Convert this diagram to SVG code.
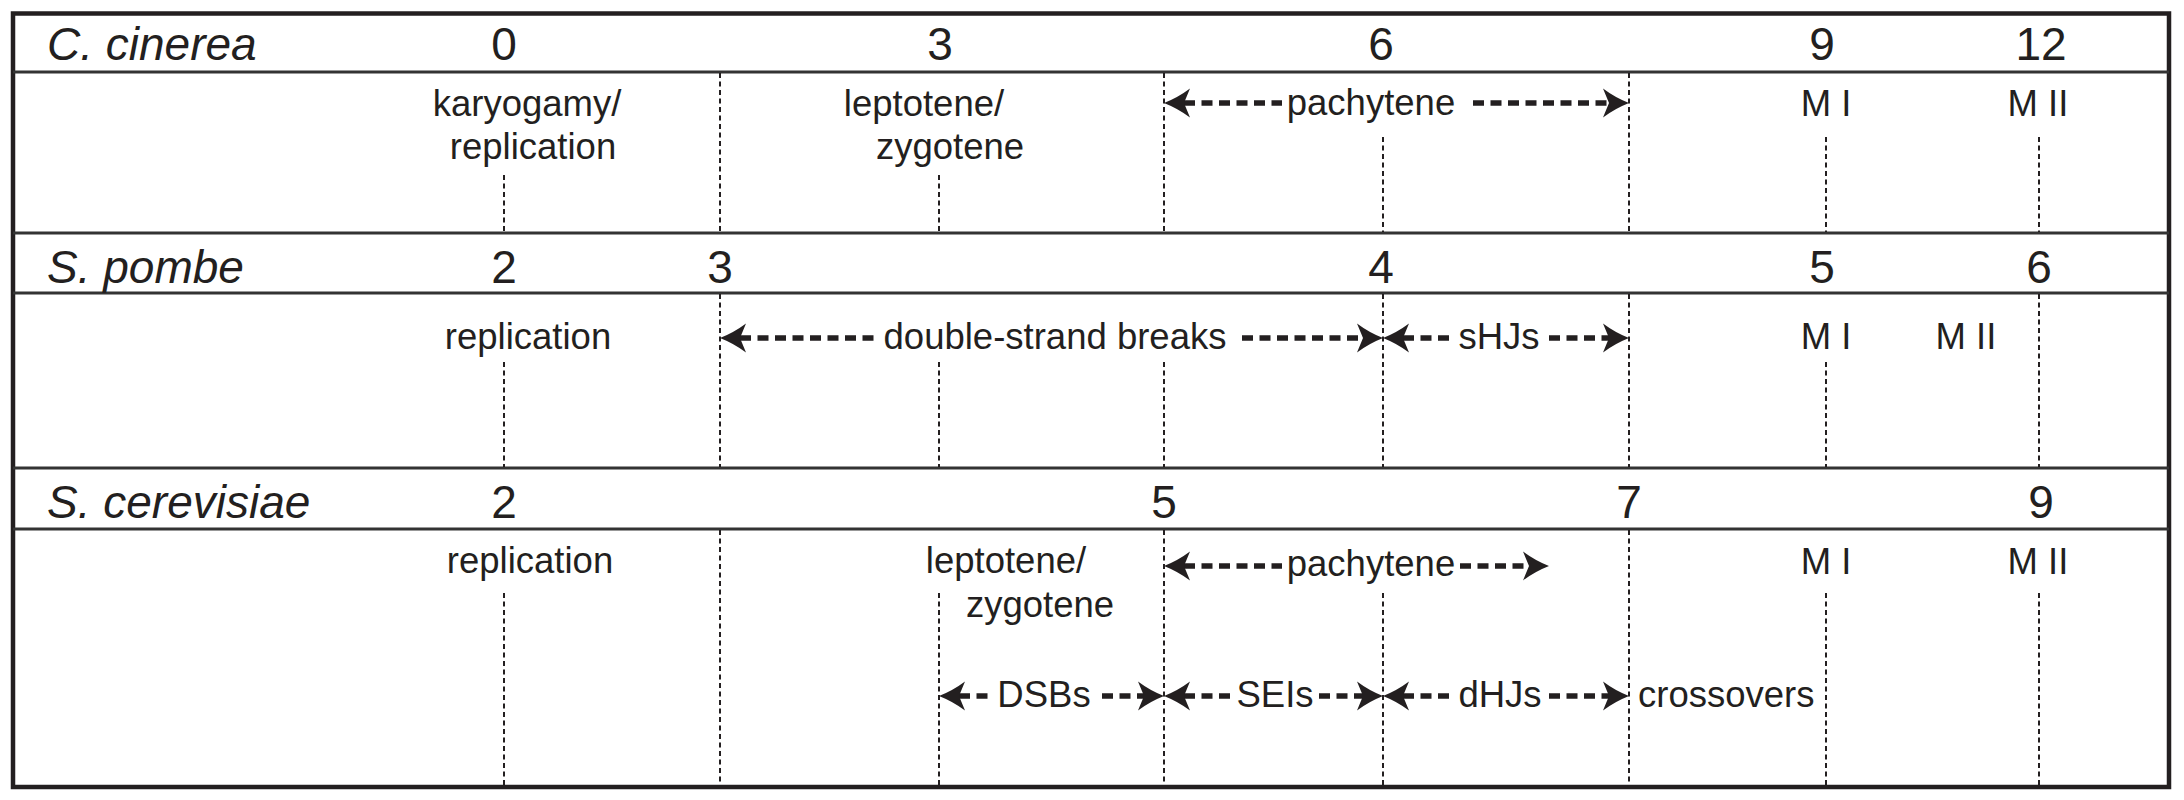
<svg xmlns="http://www.w3.org/2000/svg" xmlns:xlink="http://www.w3.org/1999/xlink" width="2184" height="800" viewBox="0 0 2184 800">
<style>
.t{font-family:"Liberation Sans",Arial,sans-serif;font-size:36.5px;fill:#231f20}
.m{text-anchor:middle}
.h{font-family:"Liberation Sans",Arial,sans-serif;font-size:46px;fill:#231f20}
.sp{font-style:italic}
.sep{stroke:#333;stroke-width:3;fill:none}
.vd{stroke:#231f20;stroke-width:2;stroke-dasharray:5 3.5;fill:none}
.sh{stroke:#231f20;stroke-width:5.5;stroke-dasharray:11 6.5;fill:none}
.ah{fill:#231f20}
</style>
<defs>
<path id="al" class="ah" d="M0,0 Q14,-5.5 26,-14.5 L20,0 L26,14.5 Q14,5.5 0,0 Z"/>
<path id="ar" class="ah" d="M0,0 Q-14,-5.5 -26,-14.5 L-20,0 L-26,14.5 Q-14,5.5 0,0 Z"/>
</defs>
<rect x="0" y="0" width="2184" height="800" fill="#fff"/>
<g id="frame">
<rect x="13" y="13.5" width="2156" height="773.5" fill="none" stroke="#231f20" stroke-width="4.5"/>
<line class="sep" x1="13" y1="72" x2="2169" y2="72"/>
<line class="sep" x1="13" y1="233" x2="2169" y2="233"/>
<line class="sep" x1="13" y1="293" x2="2169" y2="293"/>
<line class="sep" x1="13" y1="468" x2="2169" y2="468"/>
<line class="sep" x1="13" y1="529" x2="2169" y2="529"/>
</g>
<g id="connectors">
<!-- row 1 verticals -->
<line class="vd" x1="504" y1="175" x2="504" y2="232"/>
<line class="vd" x1="720" y1="73" x2="720" y2="232"/>
<line class="vd" x1="939" y1="175" x2="939" y2="232"/>
<line class="vd" x1="1164" y1="73" x2="1164" y2="232"/>
<line class="vd" x1="1383" y1="137" x2="1383" y2="232"/>
<line class="vd" x1="1629" y1="73" x2="1629" y2="232"/>
<line class="vd" x1="1826" y1="137" x2="1826" y2="232"/>
<line class="vd" x1="2039" y1="137" x2="2039" y2="232"/>
<!-- row 2 verticals -->
<line class="vd" x1="504" y1="362" x2="504" y2="467"/>
<line class="vd" x1="720" y1="294" x2="720" y2="467"/>
<line class="vd" x1="939" y1="362" x2="939" y2="467"/>
<line class="vd" x1="1164" y1="362" x2="1164" y2="467"/>
<line class="vd" x1="1383" y1="294" x2="1383" y2="467"/>
<line class="vd" x1="1629" y1="294" x2="1629" y2="467"/>
<line class="vd" x1="1826" y1="362" x2="1826" y2="467"/>
<line class="vd" x1="2039" y1="294" x2="2039" y2="467"/>
<!-- row 3 verticals -->
<line class="vd" x1="504" y1="593" x2="504" y2="785"/>
<line class="vd" x1="720" y1="530" x2="720" y2="785"/>
<line class="vd" x1="939" y1="593" x2="939" y2="785"/>
<line class="vd" x1="1164" y1="530" x2="1164" y2="785"/>
<line class="vd" x1="1383" y1="593" x2="1383" y2="785"/>
<line class="vd" x1="1629" y1="530" x2="1629" y2="785"/>
<line class="vd" x1="1826" y1="593" x2="1826" y2="785"/>
<line class="vd" x1="2039" y1="593" x2="2039" y2="785"/>
<!-- row 1 pachytene -->
<line class="sh" x1="1184" y1="103" x2="1282" y2="103"/>
<line class="sh" x1="1473" y1="103" x2="1609" y2="103"/>
<use xlink:href="#al" x="1164" y="103"/>
<use xlink:href="#ar" x="1629" y="103"/>
<!-- row 2 -->
<line class="sh" x1="740" y1="338" x2="876" y2="338"/>
<line class="sh" x1="1242" y1="338" x2="1363" y2="338"/>
<use xlink:href="#al" x="720" y="338"/>
<use xlink:href="#ar" x="1383" y="338"/>
<line class="sh" x1="1403" y1="338" x2="1452" y2="338"/>
<line class="sh" x1="1549" y1="338" x2="1609" y2="338"/>
<use xlink:href="#al" x="1383" y="338"/>
<use xlink:href="#ar" x="1629" y="338"/>
<!-- row 3 pachytene -->
<line class="sh" x1="1184" y1="566" x2="1282" y2="566"/>
<line class="sh" x1="1460" y1="566" x2="1529" y2="566"/>
<use xlink:href="#al" x="1164" y="566"/>
<use xlink:href="#ar" x="1549" y="566"/>
<!-- row 3 lower -->
<line class="sh" x1="959" y1="696" x2="990" y2="696"/>
<line class="sh" x1="1102" y1="696" x2="1144" y2="696"/>
<use xlink:href="#al" x="939" y="696"/>
<use xlink:href="#ar" x="1164" y="696"/>
<line class="sh" x1="1184" y1="696" x2="1233" y2="696"/>
<line class="sh" x1="1319" y1="696" x2="1363" y2="696"/>
<use xlink:href="#al" x="1164" y="696"/>
<use xlink:href="#ar" x="1383" y="696"/>
<line class="sh" x1="1403" y1="696" x2="1452" y2="696"/>
<line class="sh" x1="1549" y1="696" x2="1609" y2="696"/>
<use xlink:href="#al" x="1383" y="696"/>
<use xlink:href="#ar" x="1629" y="696"/>
</g>
<g id="cinerea">
<text class="h sp" x="47" y="60">C. cinerea</text>
<text class="h m" x="504" y="60">0</text>
<text class="h m" x="940" y="60">3</text>
<text class="h m" x="1381" y="60">6</text>
<text class="h m" x="1822" y="60">9</text>
<text class="h m" x="2041" y="60">12</text>
<text class="t m" x="527" y="116">karyogamy/</text>
<text class="t m" x="533" y="159">replication</text>
<text class="t m" x="924" y="116">leptotene/</text>
<text class="t m" x="950" y="159">zygotene</text>
<text class="t m" x="1371" y="115">pachytene</text>
<text class="t m" x="1826" y="116">M I</text>
<text class="t m" x="2038" y="116">M II</text>
</g>
<g id="pombe">
<text class="h sp" x="47" y="283">S. pombe</text>
<text class="h m" x="504" y="283">2</text>
<text class="h m" x="720" y="283">3</text>
<text class="h m" x="1381" y="283">4</text>
<text class="h m" x="1822" y="283">5</text>
<text class="h m" x="2039" y="283">6</text>
<text class="t m" x="528" y="349">replication</text>
<text class="t m" x="1055" y="349">double-strand breaks</text>
<text class="t m" x="1499" y="349">sHJs</text>
<text class="t m" x="1826" y="349">M I</text>
<text class="t m" x="1966" y="349">M II</text>
</g>
<g id="cerevisiae">
<text class="h sp" x="47" y="518">S. cerevisiae</text>
<text class="h m" x="504" y="518">2</text>
<text class="h m" x="1164" y="518">5</text>
<text class="h m" x="1629" y="518">7</text>
<text class="h m" x="2041" y="518">9</text>
<text class="t m" x="530" y="573">replication</text>
<text class="t m" x="1006" y="573">leptotene/</text>
<text class="t m" x="1040" y="617">zygotene</text>
<text class="t m" x="1371" y="576">pachytene</text>
<text class="t m" x="1826" y="574">M I</text>
<text class="t m" x="2038" y="574">M II</text>
<text class="t m" x="1044" y="707">DSBs</text>
<text class="t m" x="1275" y="707">SEIs</text>
<text class="t m" x="1500" y="707">dHJs</text>
<text class="t" x="1638" y="707">crossovers</text>
</g>
</svg>
